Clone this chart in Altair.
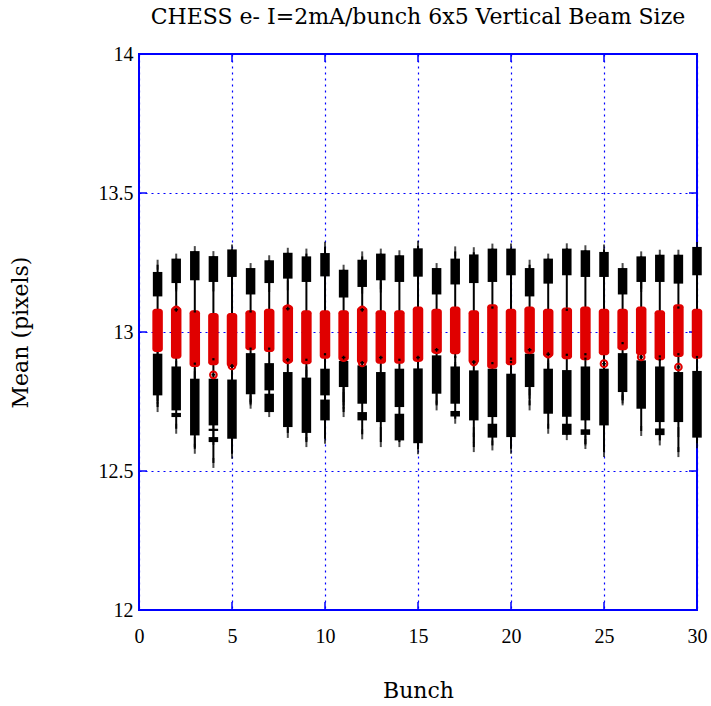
import altair as alt
import pandas as pd

# Per-bunch statistics of the vertical beam size (pixels)
bunch = list(range(1, 31))

whisker_hi = [13.242, 13.264, 13.291, 13.273, 13.297, 13.230, 13.258, 13.285, 13.282, 13.307,
              13.224, 13.272, 13.282, 13.276, 13.310, 13.230, 13.290, 13.287, 13.300, 13.300,
              13.242, 13.264, 13.301, 13.294, 13.297, 13.230, 13.272, 13.278, 13.278, 13.306]
upper_hi = [13.216, 13.264, 13.291, 13.273, 13.297, 13.230, 13.258, 13.285, 13.272, 13.284,
            13.224, 13.260, 13.282, 13.276, 13.301, 13.230, 13.264, 13.279, 13.300, 13.300,
            13.230, 13.264, 13.300, 13.294, 13.288, 13.230, 13.272, 13.278, 13.278, 13.306]
upper_lo = [13.128, 13.176, 13.186, 13.180, 13.198, 13.135, 13.176, 13.192, 13.180, 13.200,
            13.124, 13.162, 13.186, 13.180, 13.199, 13.135, 13.171, 13.176, 13.180, 13.204,
            13.128, 13.174, 13.204, 13.198, 13.198, 13.135, 13.180, 13.180, 13.174, 13.204]
red_hi = [13.084, 13.090, 13.078, 13.068, 13.068, 13.078, 13.084, 13.096, 13.078, 13.078,
          13.078, 13.090, 13.078, 13.078, 13.092, 13.084, 13.092, 13.078, 13.100, 13.084,
          13.092, 13.084, 13.088, 13.092, 13.084, 13.084, 13.092, 13.078, 13.100, 13.084]
red_lo = [12.928, 12.904, 12.874, 12.880, 12.874, 12.934, 12.928, 12.888, 12.884, 12.904,
          12.896, 12.886, 12.886, 12.886, 12.893, 12.922, 12.920, 12.886, 12.868, 12.880,
          12.922, 12.910, 12.902, 12.898, 12.916, 12.934, 12.916, 12.898, 12.910, 12.904]
lower_hi = [12.922, 12.876, 12.832, 12.832, 12.829, 12.924, 12.888, 12.856, 12.836, 12.868,
            12.896, 12.880, 12.856, 12.868, 12.869, 12.916, 12.876, 12.862, 12.868, 12.850,
            12.922, 12.868, 12.863, 12.876, 12.868, 12.924, 12.898, 12.876, 12.856, 12.860]
lower_lo = [12.772, 12.718, 12.628, 12.664, 12.616, 12.776, 12.790, 12.658, 12.637, 12.772,
            12.802, 12.742, 12.676, 12.730, 12.600, 12.778, 12.742, 12.682, 12.694, 12.622,
            12.802, 12.706, 12.695, 12.682, 12.664, 12.784, 12.724, 12.676, 12.676, 12.620]
whisker_lo = [12.730, 12.652, 12.580, 12.529, 12.562, 12.742, 12.712, 12.637, 12.604, 12.616,
              12.712, 12.632, 12.604, 12.604, 12.578, 12.736, 12.688, 12.586, 12.592, 12.580,
              12.736, 12.652, 12.629, 12.597, 12.568, 12.754, 12.644, 12.610, 12.568, 12.600]

# Additional short black segments below the main lower block
extra_bunch = [2, 4, 4, 7, 10, 12, 14, 19, 23, 24, 28, 17]
extra_lo = [12.694, 12.604, 12.644, 12.712, 12.682, 12.682, 12.610, 12.620, 12.630, 12.630, 12.629, 12.696]
extra_hi = [12.709, 12.622, 12.652, 12.778, 12.757, 12.712, 12.706, 12.670, 12.670, 12.650, 12.653, 12.716]

# Additional horizontal cap ticks
tick_bunch = [1, 1, 1, 2, 2, 2, 3, 3, 3, 4, 4, 4, 5, 5, 5, 5, 6, 6, 7, 8, 9, 9, 9,
              10, 10, 11, 11, 11, 11, 11, 11, 12, 13, 13, 13, 17, 17, 18, 18, 21, 21,
              22, 22, 25, 25, 26, 26, 27, 27, 14, 15, 16, 20, 24, 29, 30]
tick_value = [12.916, 12.770, 12.760, 13.171, 13.164, 12.878, 12.851, 12.841, 12.604,
              13.164, 12.648, 12.612, 13.188, 12.851, 12.604, 12.586, 12.766, 12.754,
              13.162, 13.168, 12.858, 12.846, 12.628, 13.188, 12.660, 13.148, 12.790,
              12.778, 12.766, 12.754, 12.742, 13.156, 13.172, 13.160, 12.640, 12.874,
              12.866, 12.640, 12.620, 12.790, 12.778, 12.880, 12.870, 13.192, 13.162,
              12.773, 12.761, 13.174, 13.162, 12.640, 12.630, 12.760, 12.700, 12.610,
              12.640, 12.640]

# Open red circles on the bars
circle_bunch = [2, 4, 5, 8, 8, 11, 12, 12, 13, 15, 16, 18, 21, 22, 25, 27, 29]
circle_value = [13.080, 12.846, 12.878, 13.084, 12.900, 12.908, 13.080, 12.889, 12.908,
                12.908, 12.936, 12.892, 12.936, 12.920, 12.886, 12.910, 12.874]

# Small black dots on the red bars
dot_bunch = [3, 3, 4, 6, 6, 7, 9, 10, 14, 17, 19, 19, 20, 20, 23, 23, 24, 24, 26, 28, 28, 29, 29, 30]
dot_value = [13.074, 12.886, 12.902, 13.074, 12.940, 12.940, 12.900, 12.920, 12.900, 12.910,
             13.088, 12.888, 12.904, 12.892, 13.080, 12.918, 12.920, 12.904, 12.960, 12.912,
             12.900, 13.088, 12.920, 12.910]

x_ticks = [0, 5, 10, 15, 20, 25, 30]
y_ticks = [12, 12.5, 13, 13.5, 14]

W, H = 558, 556
BLUE = "#0000ff"
RED = "#e00000"
LABEL_FONT = "Liberation Serif"
TITLE_FONT = "DejaVu Serif"

stats = pd.DataFrame({
    "bunch": bunch, "whi": whisker_hi, "wlo": whisker_lo,
    "uhi": upper_hi, "ulo": upper_lo, "rhi": red_hi, "rlo": red_lo,
    "lhi": lower_hi, "llo": lower_lo,
})
extras = pd.DataFrame({"bunch": extra_bunch, "lo": extra_lo, "hi": extra_hi})
ticks = pd.DataFrame({"bunch": tick_bunch, "v": tick_value})
circles = pd.DataFrame({"bunch": circle_bunch, "v": circle_value})
dots = pd.DataFrame({"bunch": dot_bunch, "v": dot_value})
xt = pd.DataFrame({"t": x_ticks})
yt = pd.DataFrame({"t": y_ticks})

xscale = alt.Scale(domain=[0, 30], nice=False, zero=False, padding=0)
yscale = alt.Scale(domain=[12, 14], nice=False, zero=False, padding=0)

x_enc = alt.X("bunch:Q", scale=xscale,
              axis=alt.Axis(values=x_ticks, title="Bunch", labelPadding=16,
                            titlePadding=34, format="d", labelFlush=False))
y_axis = alt.Axis(values=y_ticks, title="Mean (pixels)", labelPadding=6,
                  titlePadding=66, labelExpr="datum.value", labelFlush=False)

base = alt.Chart(stats)

whisker = base.mark_rule(color="black", strokeWidth=2).encode(
    x=x_enc, y=alt.Y("wlo:Q", scale=yscale, axis=y_axis), y2="whi:Q")
caps_hi = base.mark_tick(color="black", thickness=2, size=10).encode(
    x="bunch:Q", y="whi:Q")
caps_lo = base.mark_tick(color="black", thickness=2, size=10).encode(
    x="bunch:Q", y="wlo:Q")
upper = base.mark_bar(color="black", size=9.5).encode(
    x="bunch:Q", y="ulo:Q", y2="uhi:Q")
lower = base.mark_bar(color="black", size=9.5).encode(
    x="bunch:Q", y="llo:Q", y2="lhi:Q")
extra = alt.Chart(extras).mark_bar(color="black", size=9.5).encode(
    x="bunch:Q", y="lo:Q", y2="hi:Q")
extra_ticks = alt.Chart(ticks).mark_tick(color="black", thickness=2, size=10).encode(
    x="bunch:Q", y="v:Q")
red = base.mark_bar(color=RED, size=10.5, cornerRadius=3).encode(
    x="bunch:Q", y="rlo:Q", y2="rhi:Q")
rings = alt.Chart(circles).mark_point(shape="circle", filled=False, color=RED,
                                      strokeWidth=2, size=45, opacity=1).encode(
    x="bunch:Q", y="v:Q")
ring_dots = alt.Chart(circles).mark_point(shape="cross", filled=True, color="black",
                                          size=14, opacity=1).encode(
    x="bunch:Q", y="v:Q")
small_dots = alt.Chart(dots).mark_point(shape="square", filled=True, color="black",
                                        size=5, opacity=1).encode(
    x="bunch:Q", y="v:Q")

# Short inward tick marks on all four sides of the frame
tick_len = 8
xt_bottom = alt.Chart(xt).mark_rule(color=BLUE, strokeWidth=1.5).encode(
    x="t:Q", y=alt.value(H), y2=alt.value(H - tick_len))
xt_top = alt.Chart(xt).mark_rule(color=BLUE, strokeWidth=1.5).encode(
    x="t:Q", y=alt.value(0), y2=alt.value(tick_len))
yt_left = alt.Chart(yt).mark_rule(color=BLUE, strokeWidth=1.5).encode(
    y="t:Q", x=alt.value(0), x2=alt.value(tick_len))
yt_right = alt.Chart(yt).mark_rule(color=BLUE, strokeWidth=1.5).encode(
    y="t:Q", x=alt.value(W), x2=alt.value(W - tick_len))

chart = alt.layer(
    xt_bottom, xt_top, yt_left, yt_right,
    whisker, caps_hi, caps_lo, upper, lower, extra, extra_ticks,
    red, rings, ring_dots, small_dots,
).properties(
    width=W, height=H,
    title=alt.TitleParams("CHESS e- I=2mA/bunch 6x5 Vertical Beam Size",
                          font=TITLE_FONT, fontSize=22, fontWeight="normal",
                          color="black", anchor="middle", offset=15),
    autosize=alt.AutoSizeParams(type="none"),
    padding={"left": 139, "top": 54, "right": 14, "bottom": 96},
).configure_view(
    stroke=BLUE, strokeWidth=2,
).configure_axis(
    domain=False, ticks=False,
    grid=True, gridColor=BLUE, gridDash=[2, 4], gridWidth=1.2, gridOpacity=1,
    labelFont=LABEL_FONT, labelFontSize=20, labelColor="black",
    titleFont=TITLE_FONT, titleFontSize=22, titleFontWeight="normal", titleColor="black",
)

chart.save("out.html", embed_options={"renderer": "svg", "actions": False})
